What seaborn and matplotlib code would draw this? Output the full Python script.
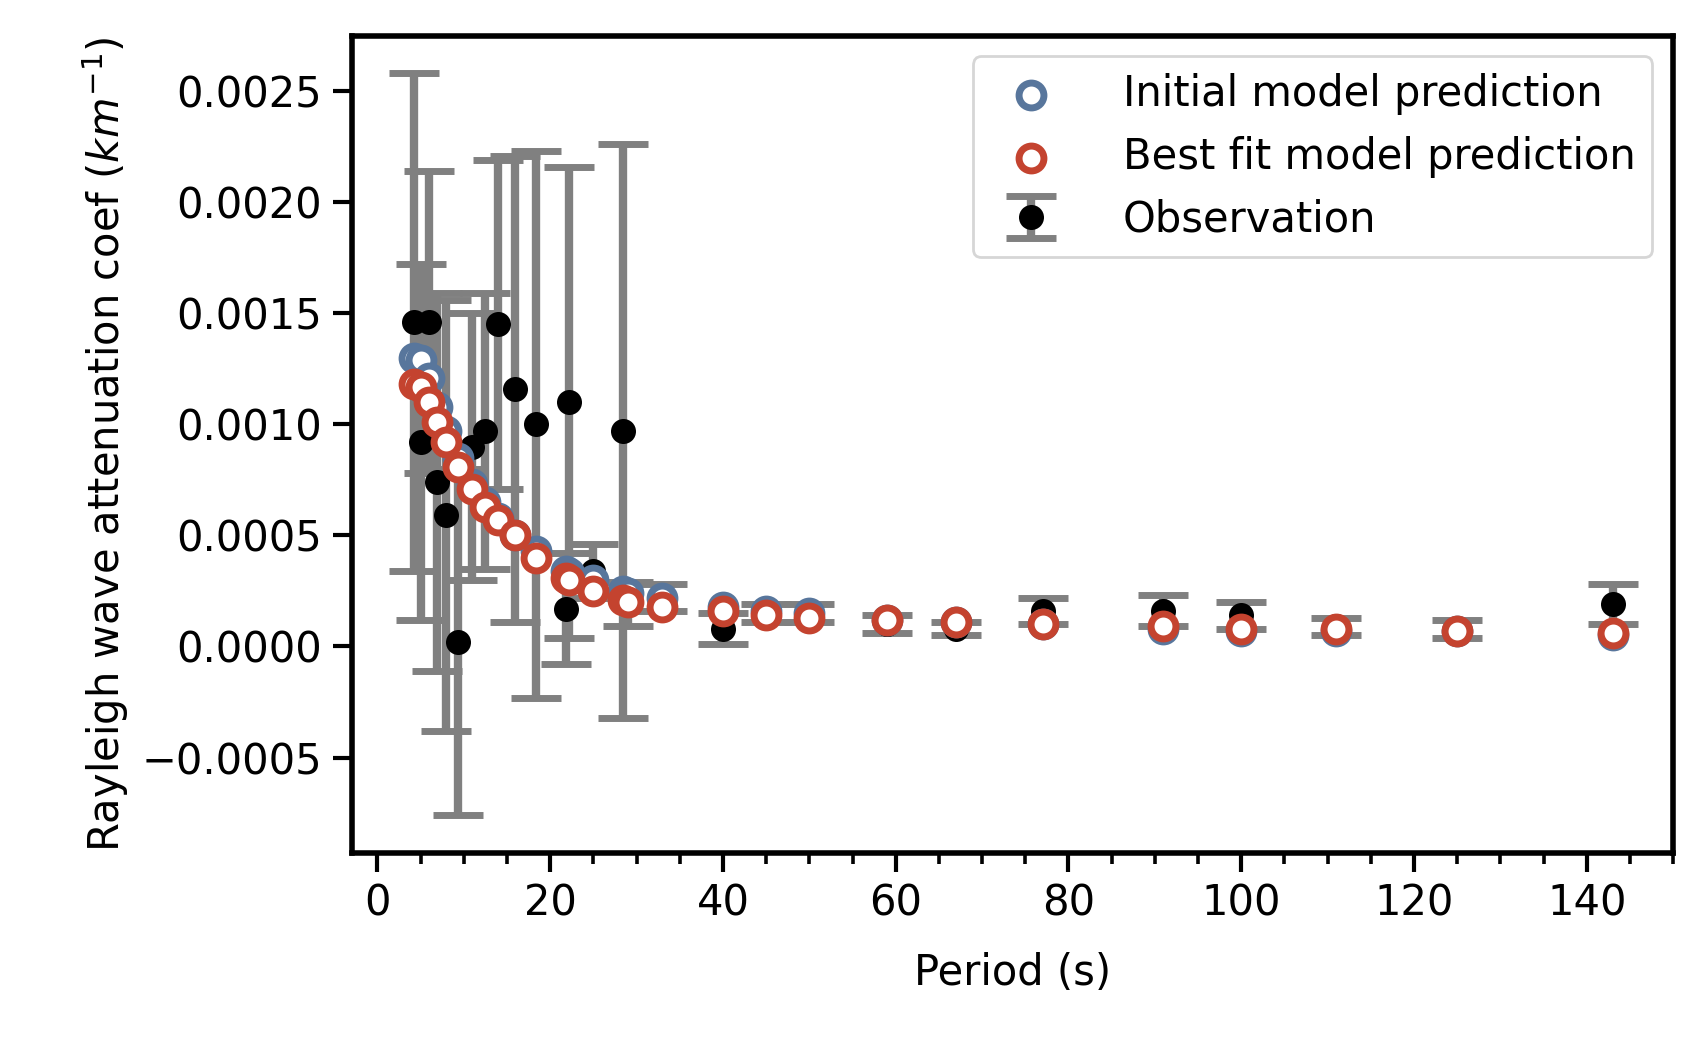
import numpy as np
import pandas as pd
import matplotlib
matplotlib.use("Agg")
import matplotlib.pyplot as plt
from matplotlib.ticker import MultipleLocator
import seaborn as sns

period = [4.25, 5.0, 6.0, 6.9, 7.9, 9.3, 10.9, 12.4, 14.0, 15.9, 18.3, 21.8, 22.2,
          25.0, 28.4, 29.0, 33.0, 40.0, 45.0, 50.0, 59.0, 67.0, 77.0, 91.0, 100.0,
          111.0, 125.0, 143.0]
obs = [0.00146, 0.00092, 0.00146, 0.00074, 0.00059, 0.00002, 0.00090, 0.00097, 0.00145,
       0.00116, 0.00100, 0.00017, 0.00110, 0.00034, 0.00097, 0.00019, 0.00022, 0.00008,
       0.00015, 0.00015, 0.00010, 0.00008, 0.00016, 0.00016, 0.00014, 0.00009, 0.00008,
       0.00019]
obs_err = [0.00112, 0.00080, 0.00068, 0.00085, 0.00097, 0.00078, 0.00060, 0.00062,
           0.00074, 0.00105, 0.00123, 0.00025, 0.00106, 0.00012, 0.00129, 0.00010,
           0.00006, 0.00007, 0.00004, 0.00004, 0.00004, 0.00003, 0.00006, 0.00007,
           0.00006, 0.00004, 0.00004, 0.00009]
initial = [0.00130, 0.00129, 0.00121, 0.00108, 0.00097, 0.00085, 0.00073, 0.00065,
           0.00058, 0.00050, 0.00043, 0.00034, 0.00033, 0.00030, 0.00025, 0.00024,
           0.00022, 0.00018, 0.00016, 0.00015, 0.00012, 0.00011, 0.00010, 0.00008,
           0.00007, 0.00007, 0.00007, 0.00005]
best = [0.00118, 0.00117, 0.00110, 0.00101, 0.00092, 0.00081, 0.00071, 0.00063,
        0.00057, 0.00050, 0.00040, 0.00031, 0.00030, 0.00025, 0.00021, 0.00020,
        0.00018, 0.00016, 0.00014, 0.00013, 0.00012, 0.00011, 0.00010, 0.00009,
        0.00008, 0.00008, 0.00007, 0.00006]

df = pd.DataFrame({"period": period, "obs": obs, "err": obs_err,
                   "initial": initial, "best": best})

sns.set_style("ticks", {"axes.edgecolor": "black", "xtick.color": "black",
                        "ytick.color": "black", "text.color": "black",
                        "axes.labelcolor": "black"})
plt.rcParams['font.family'] = ['DejaVu Sans']

fig, ax = plt.subplots(figsize=(8.45, 5.24), dpi=200)
fig.subplots_adjust(left=0.208, right=0.99, top=0.966, bottom=0.186)

ax.errorbar(df["period"], df["obs"], yerr=df["err"], fmt="o", color="black",
            ecolor="gray", elinewidth=3, capsize=9, capthick=2.5, markersize=8,
            label="Observation", zorder=2)
sns.scatterplot(data=df, x="period", y="initial", ax=ax, marker="o", s=80,
                facecolor="white", edgecolor="#58769c", linewidth=2.5,
                label="Initial model prediction", zorder=3)
sns.scatterplot(data=df, x="period", y="best", ax=ax, marker="o", s=80,
                facecolor="white", edgecolor="#c4432f", linewidth=2.5,
                label="Best fit model prediction", zorder=4)

h, l = ax.get_legend_handles_labels()
order = [l.index("Initial model prediction"), l.index("Best fit model prediction"),
         l.index("Observation")]
ax.legend([h[i] for i in order], [l[i] for i in order], loc="upper right",
          fontsize=15, framealpha=0.8, handletextpad=1.2)

ax.set_xlim(-3, 150)
ax.set_ylim(-0.00093, 0.00275)
ax.xaxis.set_minor_locator(MultipleLocator(5))
ax.yaxis.set_major_locator(MultipleLocator(0.0005))
ax.tick_params(axis="both", which="major", labelsize=15, width=1.5, length=7)
ax.tick_params(axis="x", which="minor", width=1.3, length=4)
for s in ax.spines.values():
    s.set_linewidth(2)
ax.set_xlabel("Period (s)", fontsize=15, labelpad=10)
ax.set_ylabel("Rayleigh wave attenuation coef ($km^{-1}$)", fontsize=15)

fig.savefig("out.png", dpi=200)
